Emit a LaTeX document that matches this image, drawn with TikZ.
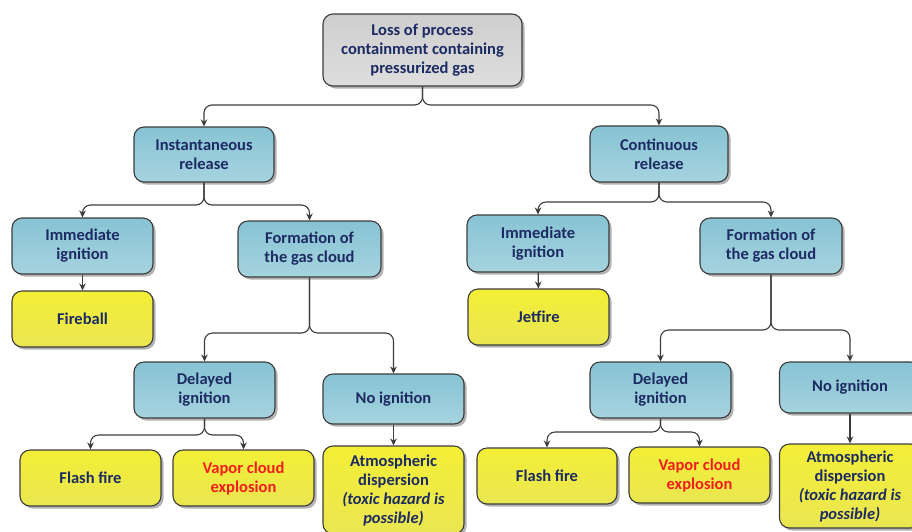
\documentclass[tikz,border=0pt]{standalone}
\usepackage{fontspec}
\setmainfont{Carlito}
\usetikzlibrary{arrows.meta,shadows}
\definecolor{navy}{HTML}{1C2B62}
\definecolor{edge}{HTML}{3C3C3C}
\definecolor{blueT}{HTML}{87C3D3}
\definecolor{blueB}{HTML}{A6D3DF}
\definecolor{yelT}{HTML}{F3EF36}
\definecolor{yelB}{HTML}{EAE652}
\definecolor{grayT}{HTML}{CECECE}
\definecolor{grayB}{HTML}{DEDEDE}
\definecolor{redtxt}{HTML}{F01E1E}
\tikzset{
  x=1pt,y=-1pt,
  box/.style={draw=edge,line width=1.1pt,rounded corners=10pt,align=center,
    text=navy,font=\fontsize{16.5}{19}\selectfont\bfseries,inner sep=1pt,
    drop shadow={shadow xshift=2.5pt,shadow yshift=-2.5pt,opacity=0.3,fill=black}},
  bluebox/.style={box,top color=blueT,bottom color=blueB,minimum width=141pt,minimum height=56pt},
  yelbox/.style={box,top color=yelT,bottom color=yelB,minimum width=141pt,minimum height=56pt},
  graybox/.style={box,top color=grayT,bottom color=grayB},
  conn/.style={draw=edge,line width=1.1pt,rounded corners=8pt,-{Stealth[length=7pt,width=6.5pt]}},
  plain/.style={draw=edge,line width=1.1pt}
}
\begin{document}
\begin{tikzpicture}
\useasboundingbox (0,0) rectangle (912,531);
\clip (0,0) rectangle (912,531);
% nodes
\node[graybox,minimum width=199pt,minimum height=72pt] (top) at (422.5,50) {Loss of process\\containment containing\\pressurized gas};
\node[bluebox,minimum width=140pt,minimum height=55pt] (inst) at (204,154.5) {Instantaneous\\release};
\node[bluebox,minimum width=138pt] (cont) at (659,154) {Continuous\\release};
\node[bluebox] (imml) at (82.5,246) {Immediate\\ignition};
\node[bluebox,minimum width=143pt] (forml) at (309.5,249) {Formation of\\the gas cloud};
\node[yelbox] (fire) at (82.5,319) {Fireball};
\node[bluebox,minimum width=142pt,minimum height=57pt] (immr) at (538,243.5) {Immediate\\ignition};
\node[bluebox,minimum width=142pt] (formr) at (771,246) {Formation of\\the gas cloud};
\node[yelbox] (jet) at (538.5,317) {Jetfire};
\node[bluebox] (dell) at (204.5,390) {Delayed\\ignition};
\node[bluebox,minimum height=50pt] (nol) at (393.5,399) {No ignition};
\node[yelbox] (flashl) at (90.5,478) {Flash fire};
\node[yelbox,text=redtxt] (vapl) at (243.5,478) {Vapor cloud\\explosion};
\node[yelbox,minimum height=88pt] (atml) at (393.5,490) {Atmospheric\\dispersion\\\textit{(toxic hazard is}\\\textit{possible)}};
\node[bluebox] (delr) at (660.5,390) {Delayed\\ignition};
\node[bluebox,minimum height=51pt] (nor) at (850,387.5) {No ignition};
\node[yelbox,minimum width=140pt] (flashr) at (547,476) {Flash fire};
\node[yelbox,text=redtxt] (vapr) at (699.5,475) {Vapor cloud\\explosion};
\node[yelbox,minimum height=84pt] (atmr) at (850,486) {Atmospheric\\dispersion\\\textit{(toxic hazard is}\\\textit{possible)}};
% connectors
\foreach \p/\c/\f in {top/inst/105,top/cont/105,inst/imml/205,inst/forml/205,cont/immr/202,cont/formr/202,forml/dell/333,forml/nol/333,formr/delr/330,formr/nor/330,dell/flashl/435,dell/vapl/435,delr/flashr/432,delr/vapr/432}
  \draw[conn] (\p.south) -- (\p.south |- 0,\f) -- (\c.north |- 0,\f) -- (\c.north);
\draw[conn] (imml) -- (fire);
\draw[conn] (immr) -- (jet);
\draw[conn] (nol) -- (atml);
\draw[conn] (nor) -- (atmr);
\end{tikzpicture}
\end{document}
